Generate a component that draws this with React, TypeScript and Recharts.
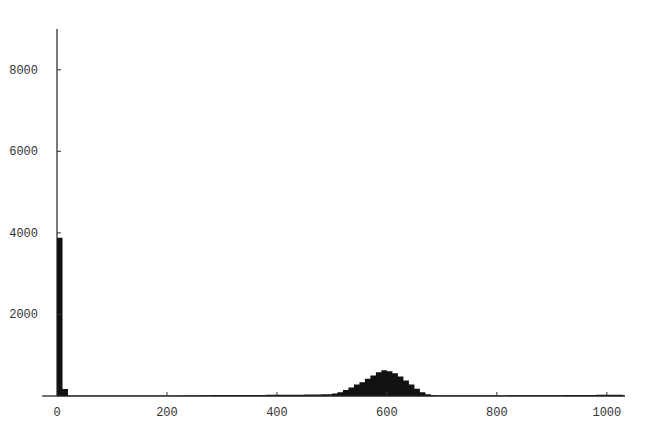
import React from "react";
import { ComposedChart, Area, XAxis, YAxis, ReferenceLine } from "recharts";

// Histogram bin width (units) and counts per bin, starting at 0
const binWidth = 10;
const counts: number[] = [
  3880, 170, 6, 5, 5, 5, 5, 5, 5, 5,          // 0-99
  5, 5, 6, 6, 6, 6, 7, 7, 8, 8,               // 100-199
  8, 9, 10, 10, 12, 14, 18, 20, 22, 22,       // 200-299
  22, 24, 24, 25, 25, 26, 26, 26, 28, 28,     // 300-399
  28, 30, 30, 32, 32, 34, 36, 38, 40, 45,     // 400-499
  60, 95, 150, 210, 280, 340, 420, 500, 580, 630, // 500-599
  610, 560, 480, 380, 285, 175, 95, 40, 18, 14,   // 600-699
  12, 12, 12, 12, 12, 14, 14, 14, 14, 14,     // 700-799
  14, 14, 16, 16, 16, 16, 18, 18, 18, 18,     // 800-899
  20, 20, 22, 22, 24, 24, 26, 26, 28, 28,     // 900-999
  28, 28, 28,                                  // 1000-1029
];

const xTicks = [0, 200, 400, 600, 800, 1000];
const yTicks = [2000, 4000, 6000, 8000];

const data = [
  ...counts.map((c, i) => ({ x: i * binWidth, c })),
  { x: counts.length * binWidth, c: counts[counts.length - 1] },
];

const FONT = "'Liberation Mono', 'DejaVu Sans Mono', monospace";

const YTick = (props: any) => {
  const { x, y, payload } = props;
  return (
    <g>
      <line x1={x + 19} x2={x + 23} y1={y} y2={y} stroke="#333" strokeWidth={1} />
      <text x={x} y={y} dy={4} textAnchor="end" fontFamily={FONT} fontSize={12} fill="#333">
        {payload.value}
      </text>
    </g>
  );
};

const XTick = (props: any) => {
  const { x, y, payload } = props;
  return (
    <g>
      {payload.value !== 0 && (
        <line x1={x} x2={x} y1={y - 10} y2={y - 14} stroke="#333" strokeWidth={1} />
      )}
      <text x={x} y={y} dy={10} textAnchor="middle" fontFamily={FONT} fontSize={12} fill="#333">
        {payload.value}
      </text>
    </g>
  );
};

export default function App() {
  return (
    <div style={{ position: "absolute", left: 0, top: 0, background: "#fff" }}>
      <ComposedChart
        width={667}
        height={426}
        data={data}
        margin={{ top: 29, right: 42, left: 0, bottom: 8 }}
      >
        <XAxis
          dataKey="x"
          type="number"
          domain={[0, 1033]}
          ticks={xTicks}
          tick={<XTick />}
          tickSize={0}
          tickMargin={10}
          height={22}
          axisLine={{ stroke: "#222", strokeWidth: 1.3 }}
          tickLine={false}
          allowDataOverflow
        />
        <YAxis
          type="number"
          domain={[0, 9000]}
          ticks={yTicks}
          tick={<YTick />}
          tickSize={0}
          tickMargin={19}
          width={57}
          axisLine={{ stroke: "#222", strokeWidth: 1.2 }}
          tickLine={false}
          allowDataOverflow
        />
        <ReferenceLine
          segment={[{ x: -27, y: 0 }, { x: 0, y: 0 }]}
          stroke="#222"
          strokeWidth={1.3}
          ifOverflow="visible"
        />
        <Area
          type="stepAfter"
          dataKey="c"
          stroke="none"
          fill="#111"
          fillOpacity={1}
          baseValue={0}
          isAnimationActive={false}
          dot={false}
          activeDot={false}
        />
      </ComposedChart>
    </div>
  );
}
